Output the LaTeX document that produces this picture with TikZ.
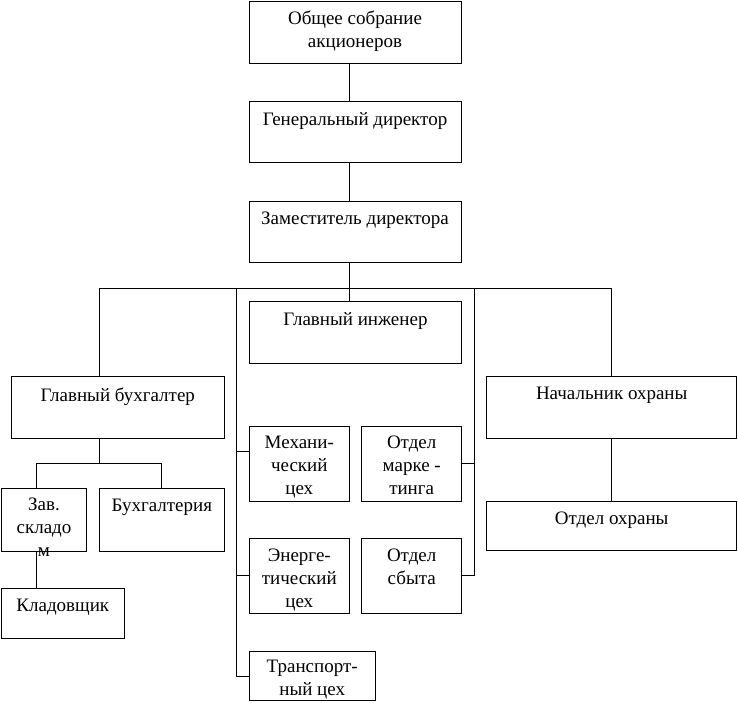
\documentclass[tikz,border=0pt]{standalone}
\usepackage{fontspec}
\setmainfont{Liberation Serif}
\usetikzlibrary{positioning}
\tikzset{
	box/.style={draw,rectangle,inner sep=0pt,line width=1pt},
	txt/.style={align=center,inner sep=0pt,font=\fontsize{19}{23}\selectfont},
	link/.style={line width=1pt}
}

\begin{document}
\begin{tikzpicture}[x=1pt,y=-1pt]
            \useasboundingbox (0,0) rectangle (738,702);
            % boxes
            \node[box,minimum width=212pt,minimum height=62pt] (obs) at (355,32) {};
            \node[box,minimum width=212pt,minimum height=61.3pt] (gen) at (355,132.3) {};
            \node[box,minimum width=212pt,minimum height=61.3pt] (zam) at (355,232.3) {};
            \node[box,minimum width=212.4pt,minimum height=61.6pt] (inzh) at (355.5,332.5) {};
            \node[box,minimum width=213pt,minimum height=61.6pt] (buh) at (117.8,407.5) {};
            \node[box,minimum width=85.4pt,minimum height=63.4pt] (zav) at (44,520) {};
            \node[box,minimum width=125pt,minimum height=63.4pt] (buhg) at (161.8,520) {};
            \node[box,minimum width=123pt,minimum height=50pt] (klad) at (62.8,613.3) {};
            \node[box,minimum width=100pt,minimum height=75.3pt] (mekh) at (299.3,463.7) {};
            \node[box,minimum width=100pt,minimum height=75pt] (energ) at (299.3,575.8) {};
            \node[box,minimum width=125.7pt,minimum height=49.3pt] (transp) at (312.2,676.3) {};
            \node[box,minimum width=100pt,minimum height=75.3pt] (mark) at (411.7,463.7) {};
            \node[box,minimum width=100pt,minimum height=75pt] (sbyt) at (411.7,575.8) {};
            \node[box,minimum width=250pt,minimum height=61.6pt] (nach) at (611.7,407.5) {};
            \node[box,minimum width=250pt,minimum height=49.3pt] (ohr) at (611.7,526.3) {};
            % texts
            \node[txt,below=10pt of obs.north] (obs-t) {Общее собрание\\акционеров};
            \node[txt,below=11pt of gen.north] (gen-t) {Генеральный директор};
            \node[txt,below=11pt of zam.north] (zam-t) {Заместитель директора};
            \node[txt,below=11pt of inzh.north] (inzh-t) {Главный инженер};
            \node[txt,below=11pt of buh.north] (buh-t) {Главный бухгалтер};
            \node[txt,below=10pt of zav.north] (zav-t) {Зав.\\складо\\м};
            \node[txt,below=11pt of buhg.north] (buhg-t) {Бухгалтерия};
            \node[txt,below=11pt of klad.north] (klad-t) {Кладовщик};
            \node[txt,below=10.5pt of mekh.north] (mekh-t) {Механи-\\ческий\\цех};
            \node[txt,below=10.5pt of energ.north] (energ-t) {Энерге-\\тический\\цех};
            \node[txt,below=9pt of transp.north] (transp-t) {Транспорт-\\ный цех};
            \node[txt,below=10.5pt of mark.north] (mark-t) {Отдел\\марке -\\тинга};
            \node[txt,below=10.5pt of sbyt.north] (sbyt-t) {Отдел\\сбыта};
            \node[txt,below=11pt of nach.north] (nach-t) {Начальник охраны};
            \node[txt,below=11pt of ohr.north] (ohr-t) {Отдел охраны};
            % bus lines
            \coordinate (trunk) at (349.3,288.3);
            \coordinate (left) at (236.7,288.3);
            \coordinate (right) at (474.3,288.3);
            \coordinate (buh-bus) at (99.3,463.3);
            \draw[link] (obs.south -| trunk) -- (gen.north -| trunk);
            \draw[link] (gen.south -| trunk) -- (zam.north -| trunk);
            \draw[link] (zam.south -| trunk) -- (inzh.north -| trunk);
            \draw[link] (buh.north -| buh-bus) |- (nach.north |- trunk) -- (nach.north);
            \draw[link] (left) |- (transp.west);
            \draw[link] (left |- 0,451.7) -- (mekh.west |- 0,451.7);
            \draw[link] (left |- energ.west) -- (energ.west);
            \draw[link] (right) |- (sbyt.east);
            \draw[link] (right |- mark.east) -- (mark.east);
            \draw[link] (nach.south) -- (ohr.north);
            \draw[link] (buh.south -| buh-bus) -- (buh-bus);
            \draw[link] (zav.north -| 36.7,0) |- (buh-bus) -| (buhg.north -| 161.3,0);
            \draw[link] (zav.south -| 36.7,0) -- (klad.north -| 36.7,0);
        \end{tikzpicture}
\end{document}
